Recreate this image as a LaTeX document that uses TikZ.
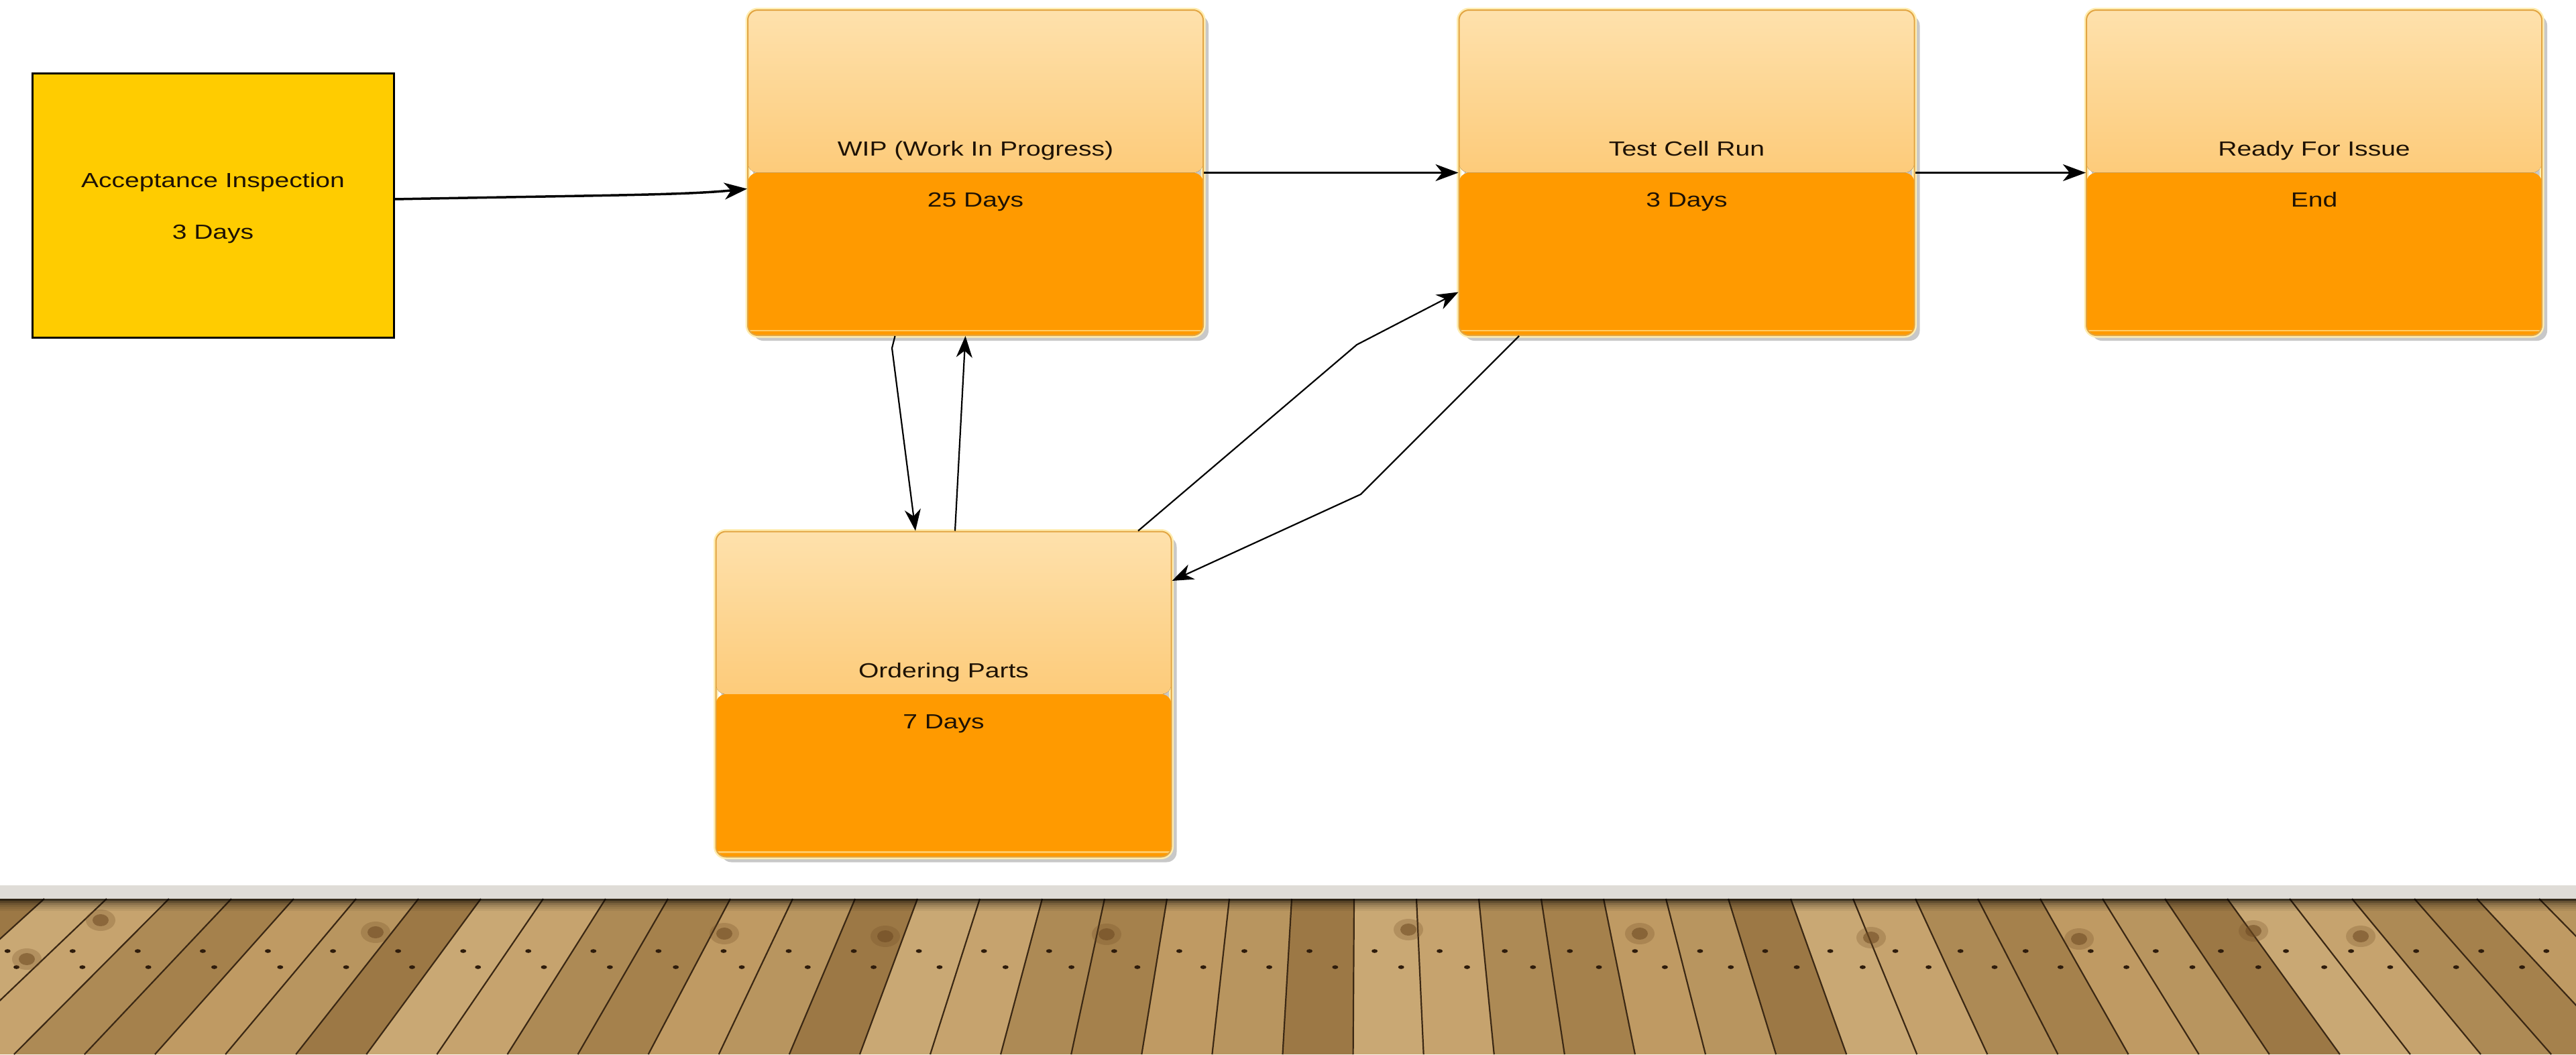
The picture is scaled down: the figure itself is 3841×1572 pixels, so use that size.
\documentclass[tikz,border=0pt]{standalone}
\usepackage{fontspec}
\setmainfont{Liberation Sans}
\usetikzlibrary{arrows.meta,shadows}
\definecolor{orng}{HTML}{FF9A00}
\definecolor{gtop}{HTML}{FEE1AC}
\definecolor{gbot}{HTML}{FBB548}
\definecolor{boxedge}{HTML}{E2A543}
\definecolor{halo}{HTML}{FFEDB0}
\definecolor{lightline}{HTML}{FFC964}
\definecolor{accfill}{HTML}{FFCC00}
\definecolor{txt}{HTML}{1E1205}
\definecolor{band}{HTML}{DFDCD7}
\definecolor{wood0}{HTML}{B8955F}
\definecolor{wood1}{HTML}{A5814C}
\definecolor{wood2}{HTML}{C6A36E}
\definecolor{wood3}{HTML}{9C7845}
\definecolor{wood4}{HTML}{BF9A63}
\definecolor{wood5}{HTML}{AD8A55}
\definecolor{wood6}{HTML}{C9A874}
\definecolor{plankline}{HTML}{3B2814}
\definecolor{nail}{HTML}{2E1C0C}
\definecolor{knot}{HTML}{6E4A22}
\newcommand{\wideText}[1]{\scalebox{1.28}[1]{#1}}
\tikzset{
  stage/.style={rectangle, rounded corners=15pt, minimum width=679pt, minimum height=485pt,
    inner sep=0pt, draw=boxedge, line width=2pt,
    drop shadow={shadow xshift=8pt, shadow yshift=-8pt, opacity=0.3, fill=black!70},
    preaction={draw=halo, line width=7pt},
    path picture={
      \fill[top color=gtop, bottom color=gbot] (path picture bounding box.north west) rectangle (path picture bounding box.east);
      \fill[orng] (path picture bounding box.west) rectangle (path picture bounding box.south east);
      \draw[lightline, line width=2.5pt] ([yshift=7pt]path picture bounding box.south west) -- ([yshift=7pt]path picture bounding box.south east);
    }},
  accbox/.style={rectangle, minimum width=539pt, minimum height=394pt, inner sep=0pt,
    fill=accfill, draw=black, line width=3pt},
  lbl/.style={anchor=base, inner sep=0pt, text=txt, font=\fontsize{30.5}{36}\selectfont},
  mainarrow/.style={-{Stealth[length=34pt,width=25pt,inset=10pt]}, line width=3.5pt, black},
  sidearrow/.style={-{Stealth[length=32pt,width=24pt,inset=10pt]}, line width=2.2pt, black}
}
\begin{document}
\begin{tikzpicture}[x=1pt,y=-1pt]
\useasboundingbox (0,0) rectangle (3841,1572);
\fill[white] (0,0) rectangle (3841,1572);

% ---- floor ----
\fill[band] (0,1320) rectangle (3841,1340);
\fill[wood0] (0,1340) rectangle (3841,1572);
\foreach \i in {0,...,44}{
  \pgfmathsetmacro\xa{\i*93-120}
  \pgfmathsetmacro\xc{\xa+93}
  \pgfmathsetmacro\xab{2030+(\xa-2030)*1.13}
  \pgfmathsetmacro\xcb{2030+(\xc-2030)*1.13}
  \pgfmathtruncatemacro\c{mod(\i*3,7)}
  \fill[wood\c] (\xa,1340) -- (\xc,1340) -- (\xcb,1572) -- (\xab,1572) -- cycle;
  \draw[plankline, line width=2.2pt] (\xa,1340) -- (\xab,1572);
  % nail holes
  \pgfmathsetmacro\fa{78/232}
  \pgfmathsetmacro\fb{102/232}
  \pgfmathsetmacro\na{\xa+(\xab-\xa)*\fa + 0.32*(93+(\xcb-\xab-93)*\fa)}
  \pgfmathsetmacro\nb{\xa+(\xab-\xa)*\fb + 0.72*(93+(\xcb-\xab-93)*\fb)}
  \fill[nail] (\na,1418) ellipse (4.5pt and 2.8pt);
  \fill[nail] (\nb,1442) ellipse (4.5pt and 2.8pt);
}
\foreach \kx/\ky in {150/1372, 40/1430, 560/1390, 1080/1392, 1320/1396, 1650/1393, 2100/1386, 2445/1392, 2790/1398, 3100/1400, 3360/1388, 3520/1396}{
  \fill[knot, opacity=0.55] (\kx,\ky) ellipse (12pt and 9pt);
  \fill[knot, opacity=0.25] (\kx,\ky) ellipse (22pt and 16pt);
}
\foreach \k/\op in {0/0.7,1/0.45,2/0.3,3/0.2,4/0.12,5/0.06}{
  \fill[black, opacity=\op] (0,1340+\k*3) rectangle (3841,1343+\k*3);
}

% ---- boxes ----
\node[accbox] (acc) at (317.5,306) {};
\node[stage] (wip) at (1454.5,257.5) {};
\node[stage] (test) at (2515,257.5) {};
\node[stage] (ready) at (3450.5,257.5) {};
\node[stage] (ord) at (1407,1035) {};

% ---- texts ----
\node[lbl] (accA) at (317.5,279) {\wideText{Acceptance Inspection}};
\node[lbl] (accB) at (317.5,356) {\wideText{3 Days}};
\node[lbl] (wipA) at (1454.5,232) {\wideText{WIP (Work In Progress)}};
\node[lbl] (wipB) at (1454.5,308) {\wideText{25 Days}};
\node[lbl] (testA) at (2515,232) {\wideText{Test Cell Run}};
\node[lbl] (testB) at (2515,308) {\wideText{3 Days}};
\node[lbl] (readyA) at (3450.5,232) {\wideText{Ready For Issue}};
\node[lbl] (readyB) at (3450.5,308) {\wideText{End}};
\node[lbl] (ordA) at (1407,1010) {\wideText{Ordering Parts}};
\node[lbl] (ordB) at (1407,1086) {\wideText{7 Days}};

% ---- connectors ----
\draw[mainarrow] ([yshift=9pt]acc.east) .. controls (900,291) and (1020,291) .. ([yshift=-24pt]wip.west);
\draw[mainarrow] (wip.east) -- (test.west);
\draw[mainarrow] (test.east) -- (ready.west);
\coordinate (b2) at (1330,519);
\draw[sidearrow] ([xshift=-120pt]wip.south) -- (b2) -- ([xshift=-42pt]ord.north);
\draw[sidearrow] ([xshift=17pt]ord.north) -- ([xshift=-15pt]wip.south);
\coordinate (b3) at (2023,514);
\draw[sidearrow] ([xshift=290pt]ord.north) -- (b3) -- ([yshift=-178pt]test.west);
\coordinate (b4) at (2029,737);
\draw[sidearrow] ([xshift=-250pt]test.south) -- (b4) -- ([yshift=169pt]ord.east);
\end{tikzpicture}
\end{document}
